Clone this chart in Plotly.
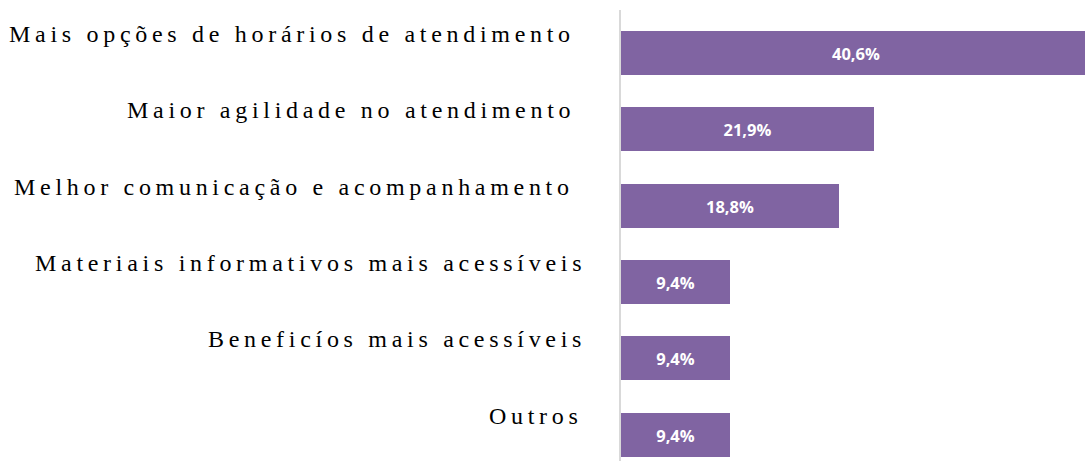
import plotly.graph_objects as go

categories = [
    "Mais opções de horários de atendimento",
    "Maior agilidade no atendimento",
    "Melhor comunicação e acompanhamento",
    "Materiais informativos mais acessíveis",
    "Beneficíos mais acessíveis",
    "Outros",
]
values = [40.6, 21.9, 18.8, 9.4, 9.4, 9.4]

label_right_px = [572, 572, 571, 583, 583, 580]  # right edge of each label (style)

W, H = 1085, 461
L = 621
LS = 4.7

fig = go.Figure()
fig.add_trace(go.Bar(
    x=values,
    y=list(range(len(categories))),
    orientation="h",
    width=0.577,
    marker=dict(color="#8064A2", line=dict(width=0)),
    texttemplate="%{x:.1f}%",
    textposition="inside",
    insidetextanchor="middle",
    textangle=0,
    constraintext="none",
    textfont=dict(family="Open Sans", size=16.5, color="white", weight="bold"),
    hoverinfo="skip",
))

for i, (cat, rp) in enumerate(zip(categories, label_right_px)):
    fig.add_annotation(
        x=0, xref="paper", y=i, yref="y",
        xanchor="right", yanchor="middle",
        xshift=rp - L + LS,
        yshift=19,
        text=f'<span style="letter-spacing:{LS}px">{cat}</span>',
        showarrow=False,
        font=dict(family="Liberation Serif", size=24, color="#000000"),
    )

fig.update_layout(
    width=W, height=H,
    margin=dict(l=L, r=0, t=10, b=0, pad=0),
    paper_bgcolor="white", plot_bgcolor="white",
    separators=",.",
    showlegend=False,
    bargap=0,
    xaxis=dict(range=[0, 40.1], visible=False, fixedrange=True),
    yaxis=dict(range=[5.347, -0.564], showticklabels=False, showgrid=False,
               zeroline=False, showline=True, linecolor="#D9D9D9", linewidth=2,
               ticks="", fixedrange=True),
)

fig.write_html("out.html", config={"displayModeBar": False})
